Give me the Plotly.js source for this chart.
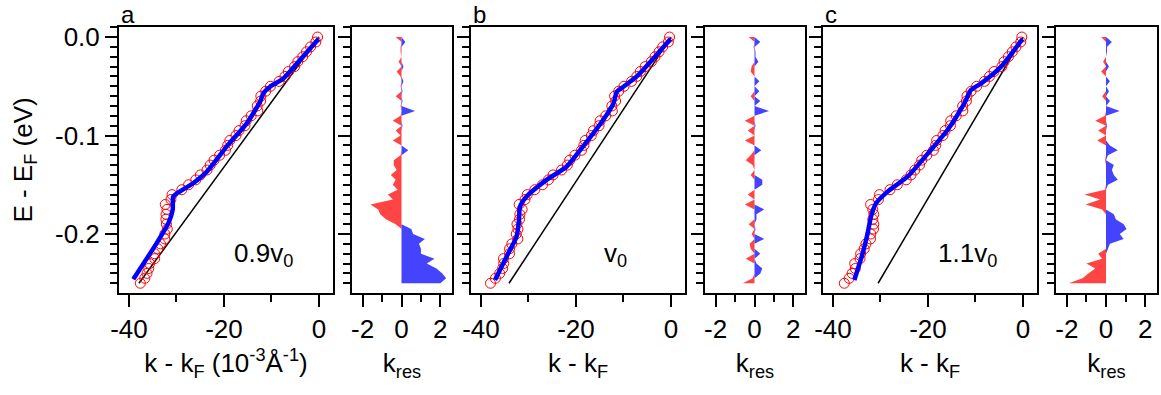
<!DOCTYPE html>
<html>
<head>
<meta charset="utf-8">
<script src="https://cdn.plot.ly/plotly-3.0.1.min.js"></script>
<style>html,body{margin:0;padding:0;background:#fff;}#chart{width:1161px;height:395px;}</style>
</head>
<body>
<div id="chart"></div>
<script>
// Energy grid of the measured dispersion points (eV)
const energy = [0, -0.005, -0.01, -0.015, -0.02, -0.025, -0.03, -0.035, -0.04, -0.045,
  -0.05, -0.055, -0.06, -0.065, -0.07, -0.075, -0.08, -0.085, -0.09, -0.095,
  -0.1, -0.105, -0.11, -0.115, -0.12, -0.125, -0.13, -0.135, -0.14, -0.145,
  -0.15, -0.155, -0.16, -0.165, -0.17, -0.175, -0.18, -0.185, -0.19, -0.195,
  -0.2, -0.205, -0.21, -0.215, -0.22, -0.225, -0.23, -0.235, -0.24, -0.245, -0.25];

// Measured k - kF (10^-3 1/Å), panels a, b, c
const kDataA = [-0.3, -0.66, -1.77, -2.63, -3.43, -4.47, -5.15, -6.44, -7.17, -8.4,
  -10.22, -11.22, -12.24, -12.29, -13.0, -12.89, -14.28, -15.32, -15.58, -16.83,
  -17.48, -18.77, -19.22, -19.7, -20.92, -22.09, -22.9, -23.57, -24.96, -25.94,
  -27.45, -28.87, -30.93, -31.17, -32.36, -32.0, -32.2, -32.23, -32.12, -31.93,
  -32.44, -32.45, -33.37, -33.94, -34.61, -34.58, -35.65, -35.83, -36.2, -36.67, -37.6];
const kDataB = [-0.3, -0.55, -1.75, -2.51, -3.36, -4.13, -5.44, -6.44, -7.2, -8.3,
  -9.89, -11.01, -11.87, -11.66, -12.45, -12.34, -13.74, -14.91, -15.14, -16.33,
  -16.77, -18.06, -18.34, -18.83, -20.23, -21.32, -21.81, -23.04, -24.82, -25.8,
  -27.04, -28.67, -30.26, -30.73, -31.97, -31.34, -31.81, -31.89, -32.42, -32.22,
  -32.57, -32.24, -33.51, -33.98, -33.99, -35.26, -35.22, -35.44, -36.06, -36.97, -37.99];
const kDataC = [-0.25, -0.47, -1.48, -2.25, -3.07, -3.98, -4.45, -6.09, -7.07, -8.11,
  -9.75, -10.92, -11.79, -11.91, -12.7, -12.66, -14.06, -15.22, -15.27, -16.4,
  -16.86, -18.17, -18.39, -18.85, -20.26, -21.31, -21.77, -22.77, -23.57, -24.58,
  -26.46, -28.0, -30.21, -30.43, -32.08, -31.62, -31.41, -31.61, -31.41, -31.47,
  -32.04, -32.1, -33.06, -33.42, -34.17, -34.3, -35.42, -35.3, -35.97, -36.59, -37.61];

// Residuals k_res (10^-3 1/Å)
const resA = [-0.3, 0.2, -0.05, -0.05, 0, -0.15, 0.1, -0.25, -0.05, 0.1,
  -0.05, 0.05, -0.3, 0.05, -0.05, 0.7, -0.05, -0.45, 0.05, -0.3,
  -0.05, -0.45, 0, 0.35, -0.05, -0.4, -0.4, -0.25, -0.55, -0.3,
  -0.45, -0.2, -0.7, -0.45, -1.6, -1.2, -1.1, -0.8, -0.3, 0.5,
  0.6, 1.2, 0.9, 1.0, 1.0, 1.7, 1.3, 1.8, 2.1, 2.3, 2.0];
const resB = [-0.3, 0.3, -0.05, 0.05, 0.05, 0.2, -0.15, -0.2, 0, 0.25,
  0, 0.25, -0.2, 0.3, 0, 0.75, 0, -0.5, 0.05, -0.35,
  0, -0.5, 0, 0.35, -0.2, -0.45, -0.1, 0, -0.2, 0.4,
  0.4, 0, -0.35, 0, -0.5, 0.5, 0.1, 0.1, -0.3, 0.05,
  -0.15, 0.5, -0.25, -0.2, 0.3, -0.45, 0.1, 0.4, 0.3, -0.1, -0.6];
const resC = [-0.25, 0.3, 0.05, 0.05, 0, -0.15, 0.15, -0.25, 0, 0.2,
  0, 0.15, -0.2, 0.2, 0, 0.7, -0.05, -0.55, 0.05, -0.4,
  0, -0.45, 0.2, 0.6, 0.1, -0.05, 0.4, 0.3, 0.4, 0.6,
  0.1, -0.05, -1.1, -0.3, -1.05, -0.2, 0.4, 0.5, 0.9, 1.05,
  0.7, 0.9, 0.2, 0.1, -0.4, -0.2, -1.0, -0.55, -0.9, -1.2, -1.9];

// Fitted dispersion (blue curves)
const eFitA = [-0.002, -0.0233, -0.042, -0.0504, -0.057, -0.0657, -0.0876, -0.111, -0.1367, -0.1485, -0.159, -0.162, -0.1756, -0.189, -0.2095, -0.246];
const kFitA = [-0.1, -4.0, -7.5, -10.3, -11.7, -12.4, -15.2, -19.4, -23.6, -26.5, -30.0, -30.7, -30.8, -31.7, -34.2, -39.1];
const eFitB = [-0.002, -0.0217, -0.040, -0.0504, -0.0555, -0.0673, -0.084, -0.111, -0.1317, -0.145, -0.162, -0.1725, -0.186, -0.2027, -0.2196, -0.2467];
const kFitB = [-0.1, -3.7, -7.2, -10.0, -11.4, -12.1, -14.25, -18.5, -22.0, -26.2, -30.4, -31.8, -32.0, -32.5, -34.25, -37.05];
const eFitC = [-0.002, -0.030, -0.047, -0.0538, -0.0673, -0.0944, -0.1147, -0.1418, -0.157, -0.169, -0.1824, -0.1993, -0.2196, -0.2467];
const kFitC = [-0.1, -4.6, -8.8, -10.95, -12.35, -15.9, -19.4, -24.3, -28.5, -30.95, -32.0, -32.7, -33.75, -35.5];

// Bare bands (black lines): 0.9 v0, v0, 1.1 v0
const eBare = [0, -0.25];
const kBareA = [0, -37.9];
const kBareB = [0, -34.1];
const kBareC = [0, -30.5];

// Labels
const panelLabels = ['a', 'b', 'c'];
const velocityLabels = ['0.9v<sub>0</sub>', 'v<sub>0</sub>', '1.1v<sub>0</sub>'];
const xTitles = ['k - k<sub>F</sub> (10<sup>-3</sup>Å<sup>-1</sup>)', 'k - k<sub>F</sub>', 'k - k<sub>F</sub>'];
const resTitle = 'k<sub>res</sub>';
const yTitle = 'E - E<sub>F</sub> (eV)';
const mainXTickVals = [-40, -20, 0];
const mainXTickText = ['-40', '-20', '0'];
const resXTickVals = [-2, 0, 2];
const resXTickText = ['-2', '0', '2'];
const yTickVals = [0, -0.1, -0.2];
const yTickText = ['0.0', '-0.1', '-0.2'];

const FONT = 'Liberation Sans, Arial, sans-serif';
const FS = 26;

const panels = [
  {kData: kDataA, res: resA, eFit: eFitA, kFit: kFitA, kBare: kBareA},
  {kData: kDataB, res: resB, eFit: eFitB, kFit: kFitB, kBare: kBareB},
  {kData: kDataC, res: resC, eFit: eFitC, kFit: kFitC, kBare: kBareC}
];

// pixel geometry -> paper domains
const W = 1161, H = 395;
const mainPx = [[119, 333], [471, 685], [823, 1037]];
const resPx = [[352, 452], [705, 805], [1056, 1157]];
const yDom = [(H - 293) / H, (H - 27) / H];
const yRange = [-0.2599, 0.0102];

const traces = [];
const layout = {
  width: W, height: H,
  margin: {l: 0, r: 0, t: 0, b: 0},
  paper_bgcolor: '#fff', plot_bgcolor: '#fff',
  showlegend: false,
  font: {family: FONT, size: FS, color: '#000'},
  annotations: []
};

function axisBase() {
  return {
    showline: true, mirror: true, linecolor: '#000', linewidth: 2,
    showgrid: false, zeroline: false,
    ticks: 'outside', tickcolor: '#000', tickwidth: 2, ticklen: 12,
    tickfont: {family: FONT, size: FS, color: '#000'},
    fixedrange: true
  };
}
function minorTicks(dt) {
  return {dtick: dt, tick0: 0, ticks: 'outside', ticklen: 7, tickwidth: 2, tickcolor: '#000', showgrid: false};
}

panels.forEach((p, i) => {
  const mi = 2 * i + 1, ri = 2 * i + 2;
  const mx = 'x' + (mi === 1 ? '' : mi), my = 'y' + (mi === 1 ? '' : mi);
  const rx = 'x' + ri, ry = 'y' + ri;

  traces.push({x: p.kBare, y: eBare, xaxis: mx, yaxis: my, mode: 'lines',
    line: {color: '#000', width: 1.5}, hoverinfo: 'skip'});
  traces.push({x: p.kData, y: energy, xaxis: mx, yaxis: my, mode: 'markers',
    marker: {symbol: 'circle-open', size: 10, color: '#ff0000', line: {width: 1, color: '#ff0000'}}});
  traces.push({x: p.kFit, y: p.eFit, xaxis: mx, yaxis: my, mode: 'lines',
    line: {color: '#0000ff', width: 4.5, shape: 'spline', smoothing: 0.6}});

  const pos = p.res.map(v => Math.max(v, 0));
  const neg = p.res.map(v => Math.min(v, 0));
  traces.push({x: neg, y: energy, xaxis: rx, yaxis: ry, mode: 'lines', fill: 'tozerox',
    fillcolor: '#ff4444', line: {width: 0, color: '#ff4444'}});
  traces.push({x: pos, y: energy, xaxis: rx, yaxis: ry, mode: 'lines', fill: 'tozerox',
    fillcolor: '#4444ff', line: {width: 0, color: '#4444ff'}});

  const xm = Object.assign(axisBase(), {
    domain: [mainPx[i][0] / W, mainPx[i][1] / W], anchor: my,
    range: [-42.1, 2.95], tickmode: 'array', tickvals: mainXTickVals, ticktext: mainXTickText,
    minor: minorTicks(10),
    title: {text: xTitles[i], font: {family: FONT, size: FS, color: '#000'}, standoff: 11}
  });
  const ym = Object.assign(axisBase(), {
    domain: yDom, anchor: mx, range: yRange,
    tickmode: 'array', tickvals: yTickVals, ticktext: yTickText,
    showticklabels: i === 0,
    minor: minorTicks(0.01)
  });
  if (i === 0) {
    ym.title = {text: yTitle, font: {family: FONT, size: FS, color: '#000'}, standoff: 15};
  }
  const xr = Object.assign(axisBase(), {
    domain: [resPx[i][0] / W, resPx[i][1] / W], anchor: ry,
    range: [-2.55, 2.6], tickmode: 'array', tickvals: resXTickVals, ticktext: resXTickText,
    minor: minorTicks(1),
    title: {text: resTitle, font: {family: FONT, size: FS, color: '#000'}, standoff: 11}
  });
  const yr = Object.assign(axisBase(), {
    domain: yDom, anchor: rx, range: yRange,
    tickmode: 'array', tickvals: yTickVals, showticklabels: false,
    minor: minorTicks(0.01)
  });
  layout['xaxis' + (mi === 1 ? '' : mi)] = xm;
  layout['yaxis' + (mi === 1 ? '' : mi)] = ym;
  layout['xaxis' + ri] = xr;
  layout['yaxis' + ri] = yr;

  layout.annotations.push({xref: 'paper', yref: 'paper', x: (mainPx[i][0] + 1) / W, y: 1.0,
    xanchor: 'left', yanchor: 'top', borderpad: 0, text: panelLabels[i], showarrow: false,
    font: {family: FONT, size: 24, color: '#000'}});
  layout.annotations.push({xref: mx, yref: my, x: -11.7, y: -0.221, text: velocityLabels[i],
    showarrow: false, xanchor: 'center', yanchor: 'middle',
    font: {family: FONT, size: FS, color: '#000'}});
});

Plotly.newPlot('chart', traces, layout, {staticPlot: true, displayModeBar: false});
</script>
</body>
</html>
